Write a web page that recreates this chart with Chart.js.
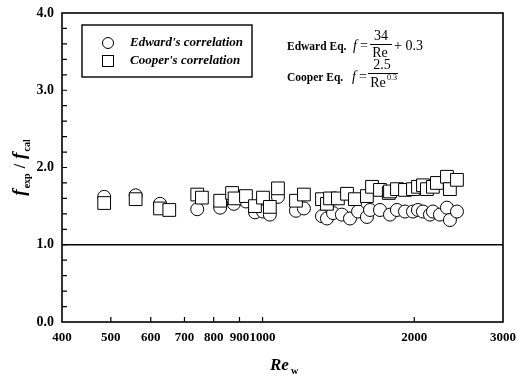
<!DOCTYPE html>
<html lang="en">
<head>
  <meta charset="UTF-8" />
  <title>f_exp / f_cal vs Re_w</title>
  <script src="https://cdn.jsdelivr.net/npm/chart.js"></script>
  <style>
    body {
      margin: 0;
      background: #fff;
    }

    .wrap {
      width: 516px;
      height: 377px;
      position: relative;
    }
  </style>
</head>
<body>
  <div class="wrap"><canvas id="chart"></canvas></div>

  <script>
    // Edward's correlation (circles)
    const edwardRe = [485, 560, 626, 742, 824, 877, 927, 966, 1002, 1034, 1073, 1165, 1208,
      1312, 1342, 1380, 1437, 1491, 1547, 1611, 1634, 1710, 1790, 1848, 1917, 1988,
      2034, 2081, 2149, 2178, 2249, 2322, 2354, 2431];
    const edwardRatio = [1.62, 1.64, 1.53, 1.46, 1.48, 1.53, 1.56, 1.42, 1.43, 1.39, 1.62, 1.44, 1.47,
      1.37, 1.34, 1.41, 1.39, 1.34, 1.43, 1.36, 1.45, 1.45, 1.39, 1.45, 1.43, 1.43,
      1.45, 1.43, 1.39, 1.43, 1.39, 1.48, 1.32, 1.43];

    // Cooper's correlation (squares)
    const cooperRe = [485, 560, 626, 653, 742, 758, 824, 870, 880, 927, 966, 1002, 1034, 1073,
      1165, 1208, 1312, 1342, 1361, 1411, 1471, 1525, 1611, 1649, 1710, 1780, 1790,
      1848, 1917, 1988, 2034, 2081, 2119, 2178, 2218, 2322, 2354, 2431];
    const cooperRatio = [1.54, 1.59, 1.47, 1.45, 1.65, 1.61, 1.57, 1.67, 1.60, 1.63, 1.50, 1.61, 1.49, 1.73,
      1.57, 1.65, 1.59, 1.53, 1.60, 1.60, 1.66, 1.59, 1.63, 1.75, 1.71, 1.67, 1.69,
      1.72, 1.71, 1.72, 1.75, 1.77, 1.72, 1.75, 1.80, 1.88, 1.72, 1.84];

    const xTickValues = [400, 500, 600, 700, 800, 900, 1000, 2000, 3000];
    const yTickValues = [0, 1, 2, 3, 4];
    const referenceLevel = 1.0;

    const serif = "'Liberation Serif', 'Times New Roman', serif";

    function toPoints(xs, ys) {
      return xs.map((x, i) => ({ x: x, y: ys[i] }));
    }

    // draws frame, inward ticks, legend box, equations and axis titles
    const decorations = {
      id: 'decorations',
      afterDraw(chart) {
        const ctx = chart.ctx;
        const area = chart.chartArea;
        const xs = chart.scales.x;
        const ys = chart.scales.y;
        ctx.save();
        ctx.strokeStyle = '#000';
        ctx.fillStyle = '#000';

        // frame
        ctx.lineWidth = 1.6;
        ctx.strokeRect(area.left, area.top, area.right - area.left, area.bottom - area.top);

        // y ticks every 0.2, pointing inward
        ctx.lineWidth = 1.2;
        ctx.beginPath();
        for (let k = 1; k < 20; k++) {
          const py = ys.getPixelForValue(k * 0.2);
          ctx.moveTo(area.left, py);
          ctx.lineTo(area.left + 5, py);
        }
        // x ticks, pointing up
        xTickValues.slice(1, -1).forEach(v => {
          const px = xs.getPixelForValue(v);
          ctx.moveTo(px, area.bottom);
          ctx.lineTo(px, area.bottom - 5);
        });
        ctx.stroke();

        // legend box
        ctx.lineWidth = 1.4;
        ctx.strokeRect(82, 25, 170, 52);
        ctx.lineWidth = 1;
        ctx.fillStyle = '#fff';
        ctx.beginPath();
        ctx.arc(108, 43, 5.5, 0, Math.PI * 2);
        ctx.fill();
        ctx.stroke();
        ctx.fillRect(102.5, 55.5, 11, 11);
        ctx.strokeRect(102.5, 55.5, 11, 11);
        ctx.fillStyle = '#000';
        ctx.font = 'italic bold 13px ' + serif;
        ctx.textBaseline = 'middle';
        ctx.textAlign = 'left';
        ctx.fillText("Edward's correlation", 130, 43);
        ctx.fillText("Cooper's correlation", 130, 61);

        // equations
        ctx.textBaseline = 'alphabetic';
        ctx.font = 'bold 11.5px ' + serif;
        ctx.fillText('Edward Eq.', 287, 50);
        ctx.fillText('Cooper Eq.', 287, 81);

        ctx.font = 'italic 14px ' + serif;
        ctx.fillText('f', 353, 50);
        ctx.fillText('f', 352, 81);
        ctx.font = '14px ' + serif;
        ctx.fillText('=', 360, 50);
        ctx.fillText('=', 359, 81);

        ctx.textAlign = 'center';
        ctx.fillText('34', 381, 40);
        ctx.fillText('Re', 380, 57);
        ctx.fillText('2.5', 382, 69);
        ctx.fillText('Re', 378, 87);
        ctx.textAlign = 'left';
        ctx.fillText('+ 0.3', 394, 50);
        ctx.font = '8px ' + serif;
        ctx.fillText('0.3', 387, 80);
        ctx.lineWidth = 1;
        ctx.beginPath();
        ctx.moveTo(370, 44.5);
        ctx.lineTo(392, 44.5);
        ctx.moveTo(368, 73.5);
        ctx.lineTo(398, 73.5);
        ctx.stroke();

        // y axis title: f_exp / f_cal
        ctx.save();
        ctx.translate(25, 167);
        ctx.rotate(-Math.PI / 2);
        const bigF = 'italic bold 19px ' + serif;
        const sub = 'bold 10px ' + serif;
        const parts = [
          ['f', bigF, 0], ['exp', sub, 5], [' / ', 'bold 16px ' + serif, 0],
          ['f', bigF, 0], ['cal', sub, 5]
        ];
        let total = 0;
        parts.forEach(p => { ctx.font = p[1]; total += ctx.measureText(p[0]).width + 1; });
        let cx = -total / 2;
        parts.forEach(p => {
          ctx.font = p[1];
          ctx.fillText(p[0], cx, p[2]);
          cx += ctx.measureText(p[0]).width + 1;
        });
        ctx.restore();

        // x axis title: Re_w
        ctx.font = 'italic bold 17px ' + serif;
        ctx.fillText('Re', 270, 370);
        ctx.font = 'bold 10px ' + serif;
        ctx.fillText('w', 291, 374);

        ctx.restore();
      }
    };

    const chart = new Chart(document.getElementById('chart'), {
      type: 'scatter',
      data: {
        datasets: [
          {
            label: 'reference',
            data: [{ x: xTickValues[0], y: referenceLevel }, { x: xTickValues[xTickValues.length - 1], y: referenceLevel }],
            showLine: true,
            borderColor: '#000',
            borderWidth: 1.6,
            pointRadius: 0,
            order: 3
          },
          {
            label: "Edward's correlation",
            data: toPoints(edwardRe, edwardRatio),
            pointStyle: 'circle',
            pointRadius: 6.5,
            backgroundColor: '#fff',
            borderColor: '#000',
            borderWidth: 1,
            order: 2
          },
          {
            label: "Cooper's correlation",
            data: toPoints(cooperRe, cooperRatio),
            pointStyle: 'rect',
            pointRadius: 9,
            backgroundColor: '#fff',
            borderColor: '#000',
            borderWidth: 1,
            order: 1
          }
        ]
      },
      options: {
        responsive: true,
        maintainAspectRatio: false,
        animation: false,
        layout: { padding: { left: 0, top: 13, right: 13, bottom: 0 } },
        plugins: {
          legend: { display: false },
          tooltip: { enabled: false }
        },
        scales: {
          x: {
            type: 'logarithmic',
            min: 400,
            max: 3000,
            grid: { display: false, drawTicks: false },
            border: { display: false },
            afterBuildTicks: axis => { axis.ticks = xTickValues.map(v => ({ value: v })); },
            afterFit: axis => {
              axis.height = 55;
              axis.paddingLeft = 0;
              axis.paddingRight = 0;
            },
            ticks: {
              autoSkip: false,
              maxRotation: 0,
              padding: 8,
              color: '#000',
              font: { family: serif, weight: 'bold', size: 13 },
              callback: v => String(v)
            }
          },
          y: {
            min: 0,
            max: 4,
            grid: { display: false, drawTicks: false },
            border: { display: false },
            afterBuildTicks: axis => { axis.ticks = yTickValues.map(v => ({ value: v })); },
            afterFit: axis => {
              axis.width = 62;
              axis.paddingTop = 0;
              axis.paddingBottom = 0;
            },
            ticks: {
              padding: 8,
              color: '#000',
              font: { family: serif, weight: 'bold', size: 14 },
              callback: v => v.toFixed(1)
            }
          }
        }
      },
      plugins: [decorations]
    });
  </script>
</body>
</html>
